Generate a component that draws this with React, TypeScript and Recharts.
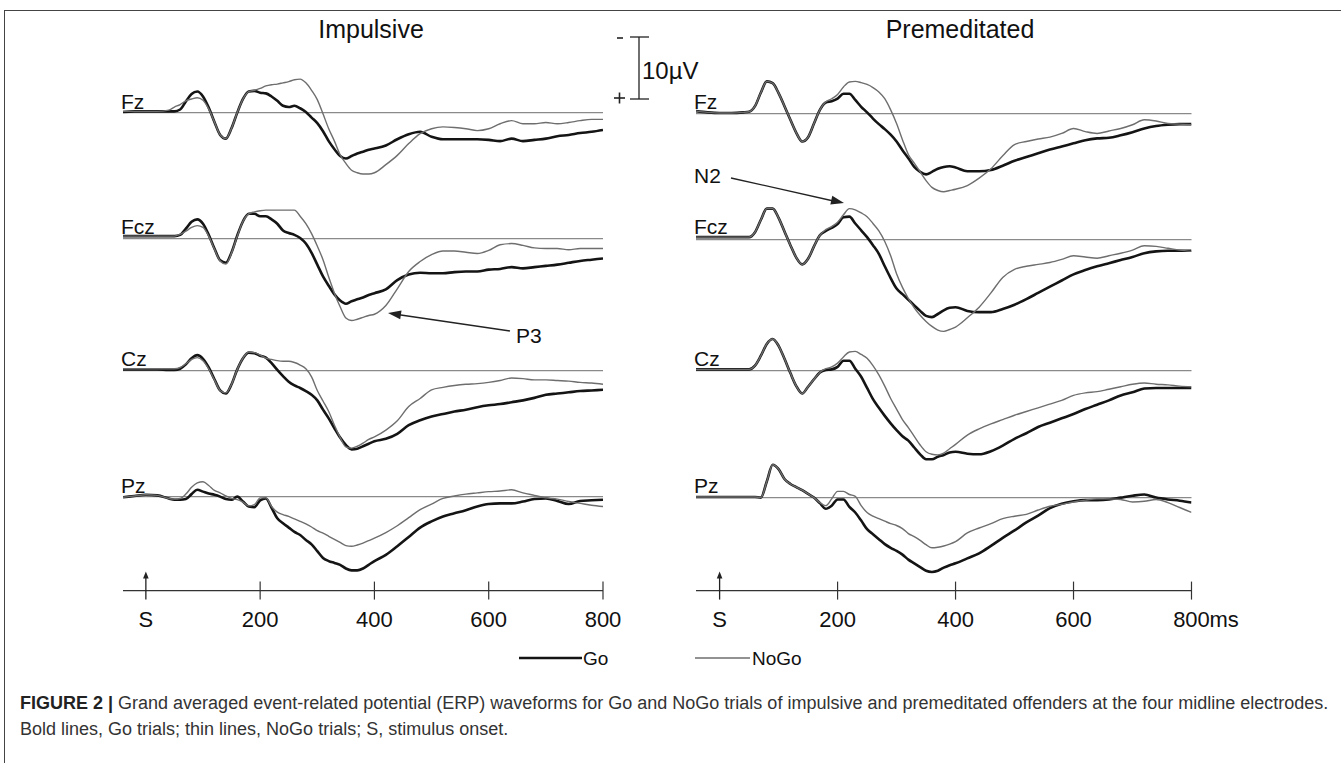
import React from 'react';
import { LineChart, Line, XAxis, YAxis, ReferenceLine } from 'recharts';

// time points (ms) shared by every trace
const TIME = [
  -40, -20, 0, 20, 40, 50,
  60, 70, 80, 90, 100, 110, 120, 130, 140, 150, 160, 170, 180, 190,
  200, 210, 220, 230, 240, 250, 260, 270, 280, 290, 300, 310, 320, 330, 340, 350, 360, 370, 380, 390, 400,
  420, 440, 460, 480, 500, 520, 540, 560, 580, 600, 620, 640, 660, 680, 700, 720, 740, 760, 780, 800,
];

const ELECTRODES = ['Fz', 'Fcz', 'Cz', 'Pz'];
const X_TICKS = [0, 200, 400, 600, 800];

// amplitudes in µV (negative plotted up)
const impFzGo = [
  -0.1, -0.2, -0.2, -0.2, -0.2, -0.2,
  -0.5, -1.8, -3.0, -3.4, -2.6, -0.8, 1.5, 3.6, 4.2, 2.5, 0.0, -2.2, -3.4, -3.5,
  -3.2, -3.1, -2.6, -1.9, -1.1, -0.9, -1.1, -0.7, -0.1, 0.8, 1.7, 3.0, 4.6, 5.9, 7.0, 7.4, 7.0, 6.6, 6.3, 6.0, 5.8,
  5.3, 4.3, 3.5, 3.1, 3.9, 4.3, 4.3, 4.3, 4.3, 4.4, 4.6, 4.2, 4.6, 4.4, 4.2, 3.8, 3.6, 3.3, 3.1, 2.8,
];
const impFzNoGo = [
  -0.2, -0.2, -0.2, -0.2, -0.4, -0.9,
  -1.3, -1.9, -2.2, -2.4, -2.0, -0.6, 1.5, 3.6, 4.2, 2.5, 0.0, -2.2, -3.4, -3.6,
  -3.9, -4.3, -4.5, -4.6, -4.8, -5.0, -5.3, -5.4, -4.8, -3.6, -2.1, 0.2, 2.6, 4.6, 6.8, 8.2, 9.3, 9.7, 9.9, 9.9, 9.7,
  8.4, 6.9, 5.0, 3.4, 2.6, 2.3, 2.4, 2.6, 2.9, 2.6, 1.8, 1.3, 1.8, 1.8, 1.6, 1.8, 1.6, 1.3, 1.1, 1.1,
];
const impFczGo = [
  -0.4, -0.4, -0.4, -0.4, -0.4, -0.4,
  -0.6, -1.6, -2.7, -3.1, -2.4, -0.6, 1.6, 3.5, 3.9, 2.2, -0.5, -2.8, -4.0, -4.0,
  -3.6, -3.6, -3.1, -2.4, -1.3, -0.9, -0.6, -0.1, 0.8, 2.3, 4.2, 6.1, 7.6, 9.0, 10.0, 10.5, 10.1, 9.8, 9.5, 9.1, 8.8,
  8.2, 6.7, 5.8, 5.5, 5.6, 5.6, 5.4, 5.3, 5.3, 5.0, 4.9, 4.6, 4.8, 4.6, 4.4, 4.2, 3.9, 3.6, 3.4, 3.2,
];
const impFczNoGo = [
  -0.4, -0.4, -0.4, -0.4, -0.4, -0.4,
  -0.7, -1.2, -1.8, -2.1, -1.8, -0.4, 1.7, 3.6, 4.1, 2.3, -0.4, -2.8, -4.0, -4.3,
  -4.5, -4.6, -4.6, -4.6, -4.6, -4.6, -4.6, -3.6, -2.4, -0.8, 1.2, 3.4, 6.2, 8.8, 11.0, 12.8, 13.2, 13.0, 12.7, 12.4, 12.2,
  10.8, 8.1, 5.3, 3.7, 2.6, 2.0, 2.0, 2.2, 2.4, 1.9, 1.0, 0.8, 1.1, 1.5, 1.6, 1.6, 1.8, 1.6, 1.6, 1.6,
];
const impCzGo = [
  -0.2, -0.2, -0.2, -0.2, -0.1, -0.1,
  -0.3, -1.0, -2.0, -2.5, -1.9, -0.5, 1.4, 3.2, 3.7, 2.2, -0.2, -2.0, -2.9, -2.8,
  -2.4, -2.1, -1.2, -0.1, 0.9, 1.8, 2.4, 2.8, 3.3, 3.9, 4.8, 6.3, 7.7, 9.3, 10.8, 12.0, 12.7, 12.6, 12.2, 11.8, 11.4,
  11.0, 10.2, 8.8, 8.0, 7.4, 7.0, 6.6, 6.3, 5.9, 5.6, 5.4, 5.1, 4.8, 4.4, 3.9, 3.7, 3.5, 3.3, 3.2, 3.1,
];
const impCzNoGo = [
  -0.3, -0.3, -0.3, -0.3, -0.3, -0.3,
  -0.5, -1.1, -1.8, -2.1, -1.6, -0.3, 1.5, 3.2, 3.6, 2.2, -0.2, -2.0, -3.0, -2.9,
  -2.5, -2.0, -1.8, -1.6, -1.5, -1.5, -1.3, -0.9, -0.3, 1.0, 3.2, 4.9, 6.6, 8.8, 10.8, 12.3, 12.5, 12.2, 11.7, 11.1, 10.7,
  9.6, 8.1, 5.8, 4.5, 3.1, 2.7, 2.4, 2.2, 2.1, 1.9, 1.6, 1.2, 1.3, 1.5, 1.5, 1.6, 1.7, 1.9, 2.0, 2.2,
];
const impPzGo = [
  0.1, -0.1, -0.3, -0.2, 0.3, 0.5,
  0.5, 0.4, -0.4, -1.1, -0.8, -0.5, -0.3, 0.0, 0.4, 0.5, 0.0, 0.8, 1.6, 1.7,
  0.6, 0.3, 1.8, 3.5, 4.3, 5.0, 5.7, 6.2, 7.0, 7.7, 8.8, 9.9, 10.4, 10.7, 11.0, 11.6, 11.9, 11.9, 11.6, 11.0, 10.4,
  9.4, 8.0, 6.5, 5.0, 4.0, 3.2, 2.7, 2.2, 1.6, 1.2, 1.1, 1.1, 0.8, 0.4, 0.3, 0.7, 1.2, 0.7, 0.6, 0.5,
];
const impPzNoGo = [
  0.1, -0.1, -0.3, -0.2, 0.3, 0.4,
  0.3, -0.4, -1.5, -2.2, -2.4, -1.8, -1.0, -0.6, -0.1, 0.3, 0.5, 0.9, 1.5, 1.3,
  0.2, 0.2, 1.6, 2.5, 2.9, 3.2, 3.6, 4.0, 4.4, 4.9, 5.5, 5.9, 6.4, 6.9, 7.4, 7.9, 8.0, 7.8, 7.5, 7.1, 6.7,
  5.8, 4.7, 3.4, 2.1, 1.2, 0.3, -0.1, -0.4, -0.6, -0.8, -0.9, -1.1, -0.6, -0.2, 0.2, 0.4, 0.8, 1.1, 1.4, 1.6,
];

const preFzGo = [
  -0.4, -0.2, -0.1, -0.1, -0.2, -0.3,
  -1.2, -3.4, -5.2, -4.9, -3.3, -1.2, 1.0, 3.1, 4.5, 3.8, 1.6, -0.6, -1.8, -2.0,
  -2.4, -3.2, -3.2, -2.2, -1.1, -0.2, 0.8, 1.7, 2.5, 3.4, 4.5, 5.9, 7.2, 8.6, 9.4, 9.8, 9.4, 8.9, 8.6, 8.5, 8.7,
  9.3, 9.3, 9.1, 8.4, 7.6, 7.0, 6.4, 5.8, 5.3, 4.8, 4.3, 4.0, 3.9, 3.5, 3.0, 2.4, 2.0, 1.8, 1.7, 1.7,
];
const preFzNoGo = [
  -0.4, -0.2, -0.1, -0.1, -0.2, -0.3,
  -1.2, -3.4, -5.2, -4.9, -3.3, -1.2, 1.0, 3.1, 4.5, 3.8, 1.6, -0.6, -1.9, -2.4,
  -3.1, -4.3, -5.1, -5.2, -5.0, -4.7, -4.2, -3.5, -2.4, -0.6, 1.6, 4.2, 6.6, 8.0, 9.4, 10.8, 11.9, 12.4, 12.6, 12.4, 12.2,
  11.6, 10.4, 8.9, 6.8, 5.0, 4.5, 4.1, 3.8, 3.2, 2.4, 2.9, 3.2, 2.8, 2.4, 1.8, 1.0, 1.2, 1.6, 1.7, 1.8,
];
const preFczGo = [
  -0.4, -0.4, -0.4, -0.4, -0.4, -0.4,
  -1.2, -3.2, -5.0, -5.0, -3.5, -1.3, 0.9, 2.9, 4.0, 3.1, 1.1, -0.7, -1.4, -1.9,
  -2.5, -3.6, -3.7, -2.6, -1.5, -0.4, 0.9, 2.3, 4.3, 6.2, 7.9, 8.8, 9.7, 10.6, 11.5, 12.3, 12.5, 12.0, 11.4, 11.0, 10.9,
  11.5, 11.7, 11.7, 11.2, 10.5, 9.6, 8.6, 7.6, 6.6, 5.6, 4.9, 4.3, 3.8, 3.3, 2.8, 2.2, 1.9, 1.8, 1.8, 1.8,
];
const preFczNoGo = [
  -0.4, -0.4, -0.4, -0.4, -0.4, -0.4,
  -1.2, -3.2, -5.0, -5.0, -3.5, -1.3, 0.9, 2.9, 4.0, 3.1, 1.1, -0.7, -1.6, -2.1,
  -2.8, -4.0, -5.0, -4.8, -4.3, -3.7, -2.6, -1.4, 0.3, 2.6, 5.5, 7.7, 9.5, 11.0, 12.2, 13.2, 14.0, 14.6, 14.8, 14.5, 14.1,
  12.6, 10.9, 8.6, 6.1, 4.8, 4.3, 4.0, 3.7, 3.2, 2.6, 2.8, 3.0, 2.6, 2.2, 1.7, 1.0, 1.1, 1.4, 1.7, 1.9,
];
const preCzGo = [
  -0.2, -0.2, -0.2, -0.2, -0.2, -0.2,
  -0.8, -2.4, -4.3, -5.1, -4.0, -1.9, 0.4, 2.5, 3.7, 2.6, 1.4, 0.3, -0.1, -0.2,
  -0.6, -1.6, -1.6, -0.3, 1.0, 2.8, 4.6, 6.0, 7.3, 8.5, 9.6, 10.6, 11.3, 12.4, 13.5, 14.3, 14.3, 13.9, 13.6, 13.2, 13.1,
  13.4, 13.5, 13.0, 12.1, 11.0, 10.1, 9.1, 8.4, 7.7, 7.0, 6.2, 5.5, 4.8, 4.0, 3.5, 2.9, 2.8, 2.8, 2.8, 2.8,
];
const preCzNoGo = [
  -0.2, -0.2, -0.2, -0.2, -0.2, -0.2,
  -0.8, -2.4, -4.3, -5.1, -4.0, -1.9, 0.4, 2.5, 3.7, 2.6, 1.4, 0.3, -0.3, -0.6,
  -1.2, -2.2, -3.0, -3.1, -2.6, -2.0, -0.8, 0.7, 2.5, 4.5, 6.2, 7.9, 9.2, 10.6, 12.0, 13.1, 13.5, 13.6, 13.3, 12.6, 11.9,
  10.4, 9.4, 8.6, 7.9, 7.2, 6.6, 6.0, 5.4, 4.8, 4.0, 3.6, 3.4, 3.0, 2.6, 2.2, 2.0, 2.2, 2.3, 2.5, 2.6,
];
const prePzGo = [
  -0.1, -0.1, -0.1, -0.1, -0.1, -0.1,
  -0.1, 0.0, -2.6, -5.3, -4.6, -3.0, -2.2, -1.7, -1.2, -0.6, 0.0, 0.9, 1.8, 1.3,
  0.3, 0.3, 1.5, 2.4, 3.7, 5.1, 5.9, 6.7, 7.5, 8.1, 8.6, 9.2, 10.0, 10.6, 11.2, 11.8, 12.0, 11.8, 11.3, 10.9, 10.6,
  9.8, 9.0, 7.8, 6.5, 5.3, 4.0, 2.9, 1.7, 1.0, 0.6, 0.4, 0.4, 0.3, 0.0, -0.3, -0.5, 0.0, 0.3, 0.5, 0.8,
];
const prePzNoGo = [
  -0.1, -0.1, -0.1, -0.1, -0.1, -0.1,
  -0.1, 0.0, -2.6, -5.3, -4.6, -3.0, -2.2, -1.7, -1.2, -0.6, 0.0, 0.8, 1.3, 0.2,
  -1.0, -1.0, -0.5, -0.2, 1.3, 2.4, 3.0, 3.4, 3.8, 4.2, 4.5, 5.0, 5.8, 6.3, 6.9, 7.6, 8.1, 8.0, 7.8, 7.5, 7.1,
  5.7, 4.9, 4.2, 3.4, 3.0, 2.7, 2.0, 1.4, 1.1, 0.7, 0.4, 0.2, 0.2, 0.3, 0.7, 0.6, 0.3, 0.8, 1.6, 2.4,
];

const IMP_TRACES = [[impFzGo, impFzNoGo], [impFczGo, impFczNoGo], [impCzGo, impCzNoGo], [impPzGo, impPzNoGo]];
const PRE_TRACES = [[preFzGo, preFzNoGo], [preFczGo, preFczNoGo], [preCzGo, preCzNoGo], [prePzGo, prePzNoGo]];

// layout
const PX = 6.2; // pixels per µV (10 µV bar = 62px)
const AXIS_Y = 591;
const Y_MIN = -8;
const FONT = '"Liberation Sans", Arial, Helvetica, sans-serif';

const COLUMNS = [
  { title: 'Impulsive', titleX: 371, left: 123, width: 480, labelX: 121, baselines: [113, 239, 371, 497], traces: IMP_TRACES, ms: false },
  { title: 'Premeditated', titleX: 960, left: 695.5, width: 495.5, labelX: 694, baselines: [114, 240, 371, 498], traces: PRE_TRACES, ms: true },
];
const LABEL_BASE = [107, 232, 364, 491];

const makeTick = (showMs: boolean) => (props: any) => {
  const { x, y, payload } = props;
  const v = payload.value;
  return (
    <g>
      {v === 0 ? (
        <>
          <line x1={x} y1={y + 9} x2={x} y2={y - 13} stroke="#222" strokeWidth={1.3} />
          <path d={`M${x - 2.8},${y - 12} L${x},${y - 19} L${x + 2.8},${y - 12} Z`} fill="#222" />
        </>
      ) : (
        <line x1={x} y1={y - 9} x2={x} y2={y + 9} stroke="#333" strokeWidth={1.2} />
      )}
      <text x={x} y={y + 36} textAnchor="middle" fontSize={22} fill="#111" fontFamily={FONT}>
        {v === 0 ? 'S' : String(v)}
      </text>
      {showMs && v === 800 && (
        <text x={x + 18} y={y + 36} fontSize={22} fill="#111" fontFamily={FONT}>ms</text>
      )}
    </g>
  );
};

function Panel({ left, width, baseline, go, nogo, withAxis, ms }: any) {
  const top = baseline + Y_MIN * PX;
  const bottom = withAxis ? AXIS_Y : baseline + 17 * PX;
  const plotH = bottom - top;
  const yMax = (bottom - baseline) / PX;
  const axisH = withAxis ? 50 : 0;
  const data = TIME.map((t, i) => ({ t, go: go[i], nogo: nogo[i] }));
  return (
    <div style={{ position: 'absolute', left, top }}>
      <LineChart width={width} height={plotH + axisH} data={data} margin={{ top: 0, right: 0, bottom: 0, left: 0 }}>
        <XAxis
          type="number"
          dataKey="t"
          domain={[-40, 800]}
          allowDataOverflow
          hide={!withAxis}
          height={axisH}
          ticks={X_TICKS}
          interval={0}
          tickSize={0}
          tickMargin={0}
          tickLine={false}
          axisLine={{ stroke: '#333', strokeWidth: 1.2 }}
          tick={makeTick(ms)}
        />
        <YAxis hide reversed type="number" domain={[Y_MIN, yMax]} allowDataOverflow />
        <ReferenceLine y={0} stroke="#8a8a8a" strokeWidth={1.2} />
        <Line type="monotone" dataKey="go" stroke="#141414" strokeWidth={2.6} dot={false} isAnimationActive={false} />
        <Line type="monotone" dataKey="nogo" stroke="#6e6e6e" strokeWidth={1.4} dot={false} isAnimationActive={false} />
      </LineChart>
    </div>
  );
}

const arrowHead = (x1: number, y1: number, x2: number, y2: number, len = 13, half = 4.5) => {
  const a = Math.atan2(y2 - y1, x2 - x1);
  const bx = x2 - len * Math.cos(a);
  const by = y2 - len * Math.sin(a);
  const px = -Math.sin(a) * half;
  const py = Math.cos(a) * half;
  return `M${x2},${y2} L${bx + px},${by + py} L${bx - px},${by - py} Z`;
};

export default function App() {
  const text = (extra: React.CSSProperties) => ({ position: 'absolute' as const, fontFamily: FONT, color: '#111', whiteSpace: 'nowrap' as const, lineHeight: 1, ...extra });
  return (
    <div style={{ position: 'absolute', left: 0, top: 0, width: 1341, height: 767, background: '#fff', overflow: 'hidden' }}>
      {/* let tick labels past the plot edge show */}
      <style>{'.recharts-surface, .recharts-wrapper { overflow: visible !important; }'}</style>

      {/* frame */}
      <div style={{ position: 'absolute', left: 4, top: 10, width: 1340, height: 752, borderTop: '1px solid #444', borderLeft: '1px solid #444' }} />

      {COLUMNS.map((col) => (
        <React.Fragment key={col.title}>
          <div style={text({ left: col.titleX - 100, width: 200, top: 17, fontSize: 25, textAlign: 'center' })}>{col.title}</div>
          {ELECTRODES.map((el, r) => (
            <React.Fragment key={el}>
              <Panel
                left={col.left}
                width={col.width}
                baseline={col.baselines[r]}
                go={col.traces[r][0]}
                nogo={col.traces[r][1]}
                withAxis={r === 3}
                ms={col.ms}
              />
              <div style={text({ left: col.labelX, top: LABEL_BASE[r] - 16, fontSize: 21 })}>{el}</div>
            </React.Fragment>
          ))}
        </React.Fragment>
      ))}

      {/* scale bar, arrows */}
      <svg width={1341} height={767} style={{ position: 'absolute', left: 0, top: 0, pointerEvents: 'none' }}>
        <line x1={639} y1={37} x2={639} y2={99} stroke="#222" strokeWidth={1.3} />
        <line x1={630} y1={37} x2={649} y2={37} stroke="#222" strokeWidth={1.3} />
        <line x1={630} y1={99} x2={649} y2={99} stroke="#222" strokeWidth={1.3} />
        <line x1={617} y1={38} x2={623} y2={38} stroke="#222" strokeWidth={1.6} />
        <line x1={614} y1={98} x2={625} y2={98} stroke="#222" strokeWidth={1.6} />
        <line x1={619.5} y1={92.5} x2={619.5} y2={103.5} stroke="#222" strokeWidth={1.6} />
        <text x={642} y={79} fontSize={24} fill="#111" fontFamily={FONT}>10µV</text>

        <line x1={731} y1={178} x2={838} y2={202} stroke="#222" strokeWidth={1.3} />
        <path d={arrowHead(731, 178, 844, 203)} fill="#222" />
        <text x={694} y={183} fontSize={21} fill="#111" fontFamily={FONT}>N2</text>

        <line x1={510} y1={331} x2={394} y2={314} stroke="#222" strokeWidth={1.3} />
        <path d={arrowHead(510, 331, 388, 313)} fill="#222" />
        <text x={516} y={343} fontSize={21} fill="#111" fontFamily={FONT}>P3</text>

        {/* legend */}
        <line x1={519} y1={658} x2={582} y2={658} stroke="#141414" strokeWidth={2.6} />
        <text x={583} y={665} fontSize={19} fill="#111" fontFamily={FONT}>Go</text>
        <line x1={695} y1={658} x2={750} y2={658} stroke="#6e6e6e" strokeWidth={1.4} />
        <text x={752} y={665} fontSize={19} fill="#111" fontFamily={FONT}>NoGo</text>
      </svg>

      {/* caption */}
      <div style={text({ left: 20, top: 690, fontSize: 18, lineHeight: '26px', color: '#333' })}>
        <b style={{ color: '#222' }}>FIGURE 2 |</b> Grand averaged event-related potential (ERP) waveforms for Go and NoGo trials of impulsive and premeditated offenders at the four midline electrodes.
        <br />
        Bold lines, Go trials; thin lines, NoGo trials; S, stimulus onset.
      </div>
    </div>
  );
}
